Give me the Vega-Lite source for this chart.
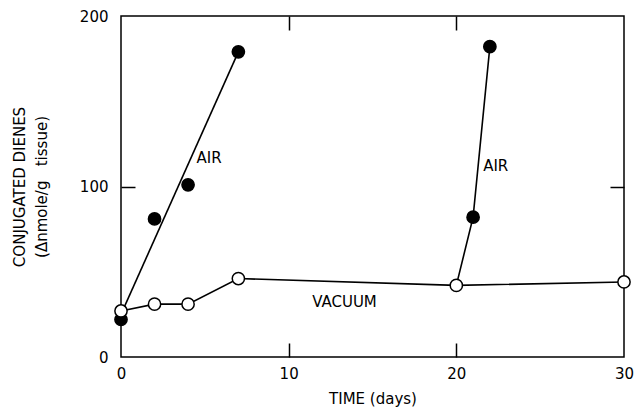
{
  "$schema": "https://vega.github.io/schema/vega-lite/v6.json",
  "width": 503,
  "height": 341,
  "autosize": "none",
  "padding": {"left": 121, "top": 16, "right": 12, "bottom": 56},
  "background": "white",
  "config": {
    "view": {"stroke": "black", "strokeWidth": 1.5},
    "font": "DejaVu Sans",
    "axis": {"grid": false, "domain": false, "tickColor": "black", "tickWidth": 1.5, "labelColor": "black", "titleColor": "black", "labelFont": "DejaVu Sans", "titleFont": "DejaVu Sans", "labelFontSize": 15, "titleFontSize": 15, "titleFontWeight": "normal"}
  },
  "datasets": {
    "pts": [
      {"day": 0, "value": 22, "kind": "air"},
      {"day": 2, "value": 81, "kind": "air"},
      {"day": 4, "value": 101, "kind": "air"},
      {"day": 7, "value": 179, "kind": "air"},
      {"day": 21, "value": 82, "kind": "air"},
      {"day": 22, "value": 182, "kind": "air"},
      {"day": 0, "value": 27, "kind": "vacuum"},
      {"day": 2, "value": 31, "kind": "vacuum"},
      {"day": 4, "value": 31, "kind": "vacuum"},
      {"day": 7, "value": 46, "kind": "vacuum"},
      {"day": 20, "value": 42, "kind": "vacuum"},
      {"day": 30, "value": 44, "kind": "vacuum"}
    ],
    "lines": [
      {"day": 0, "value": 25, "grp": "air1"},
      {"day": 7, "value": 179, "grp": "air1"},
      {"day": 0, "value": 27, "grp": "vac"},
      {"day": 2, "value": 31, "grp": "vac"},
      {"day": 4, "value": 31, "grp": "vac"},
      {"day": 7, "value": 46, "grp": "vac"},
      {"day": 20, "value": 42, "grp": "vac"},
      {"day": 30, "value": 44, "grp": "vac"},
      {"day": 20, "value": 42, "grp": "air2"},
      {"day": 21, "value": 82, "grp": "air2"},
      {"day": 22, "value": 182, "grp": "air2"}
    ],
    "labels": [
      {"day": 4.5, "value": 117, "text": "AIR"},
      {"day": 21.6, "value": 112, "text": "AIR"},
      {"day": 11.4, "value": 32, "text": "VACUUM"}
    ]
  },
  "resolve": {"axis": {"x": "independent", "y": "independent"}},
  "layer": [
    {
      "data": {"name": "lines"},
      "mark": {"type": "line", "color": "black", "strokeWidth": 1.6},
      "encoding": {
        "x": {"field": "day", "type": "quantitative", "scale": {"domain": [0, 30], "nice": false, "zero": false},
          "axis": {"orient": "bottom", "values": [0, 10, 20, 30], "ticks": false, "labelPadding": 9, "title": "TIME (days)", "titlePadding": 10, "labelFlush": false}},
        "y": {"field": "value", "type": "quantitative", "scale": {"domain": [0, 200], "nice": false},
          "axis": {"orient": "left", "values": [0, 100, 200], "ticks": false, "labelPadding": 13, "title": ["CONJUGATED DIENES", "(Δnmole/g\u00a0\u00a0\u00a0tissue)"], "titleLineHeight": 22, "titlePadding": 30, "labelFlush": false}},
        "detail": {"field": "grp"}
      }
    },
    {
      "data": {"name": "pts"},
      "mark": {"type": "point", "shape": "circle", "size": 150, "strokeWidth": 1.5, "stroke": "black", "opacity": 1},
      "encoding": {
        "x": {"field": "day", "type": "quantitative", "axis": {"orient": "top", "values": [10, 20], "offset": -14, "tickSize": 14, "labels": false, "title": null}},
        "y": {"field": "value", "type": "quantitative", "axis": {"orient": "right", "values": [100], "offset": -14, "tickSize": 14, "labels": false, "title": null}},
        "fill": {"field": "kind", "type": "nominal", "scale": {"domain": ["air", "vacuum"], "range": ["black", "white"]}, "legend": null}
      }
    },
    {
      "data": {"name": "labels"},
      "mark": {"type": "text", "align": "left", "baseline": "middle", "fontSize": 15, "font": "DejaVu Sans", "color": "black"},
      "encoding": {
        "x": {"field": "day", "type": "quantitative", "axis": {"orient": "bottom", "values": [10, 20], "offset": -14, "tickSize": 14, "labels": false, "title": null}},
        "y": {"field": "value", "type": "quantitative", "axis": {"orient": "left", "values": [100], "offset": -14, "tickSize": 14, "labels": false, "title": null}},
        "text": {"field": "text"}
      }
    }
  ]
}
